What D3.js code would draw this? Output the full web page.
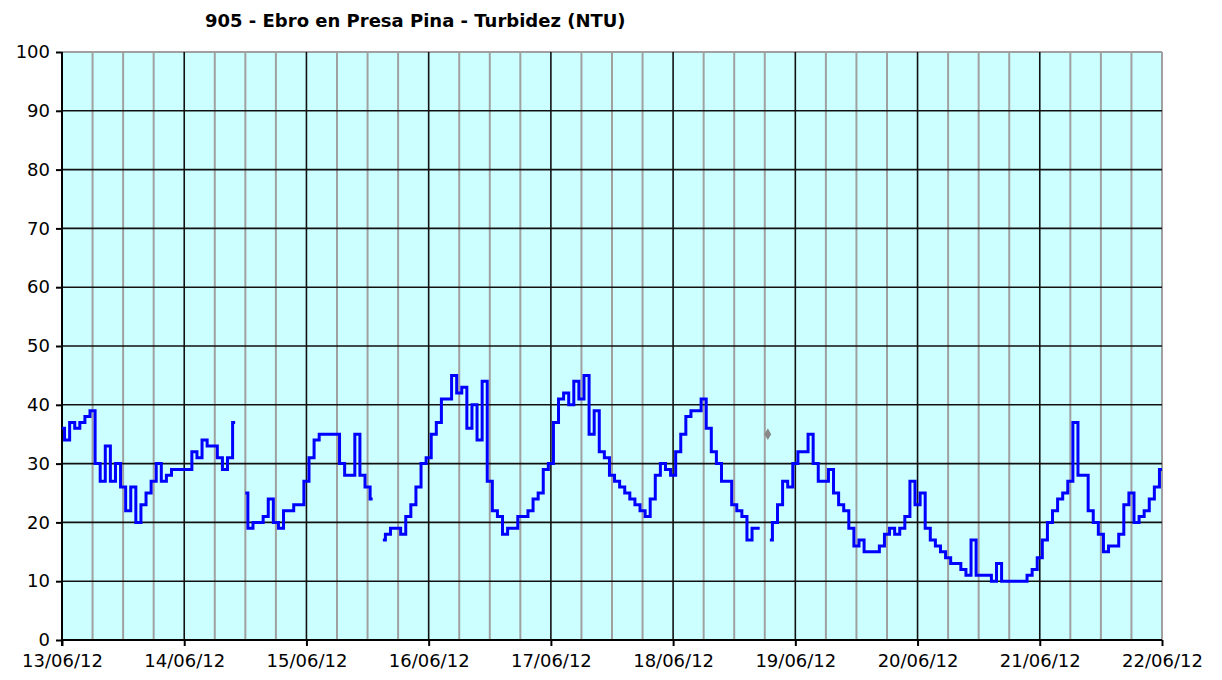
<!DOCTYPE html>
<html>
<head>
<meta charset="utf-8">
<script src="https://cdn.jsdelivr.net/npm/d3@7"></script>
<style type="text/css">
	body {
		margin: 0;
		background-color: #ffffff;
	}
	svg text {
		font-family: "DejaVu Sans", Verdana, sans-serif;
	}
	.titulo {
		font-weight: bold;
		font-size: 18px;
	}
	.eje text {
		font-size: 18px;
		fill: #000;
	}
</style>
</head>
<body>
<svg id="grafica" width="1222" height="680"></svg>
<script type="text/javascript">

	// etiquetas de los dias (eje x) y valores del eje y
	const dias = ["13/06/12", "14/06/12", "15/06/12", "16/06/12", "17/06/12", "18/06/12", "19/06/12", "20/06/12", "21/06/12", "22/06/12"];
	const ticksY = [0, 10, 20, 30, 40, 50, 60, 70, 80, 90, 100];

	// turbidez (NTU), un valor por hora, null = sin dato
	const t13 = [36, 34, 37, 36, 37, 38, 39, 30, 27, 33, 27, 30, 26, 22, 26, 20, 23, 25, 27, 30, 27, 28, 29, 29];
	const t14 = [29, 29, 32, 31, 34, 33, 33, 31, 29, 31, 37, null, 25, 19, 20, 20, 21, 24, 20, 19, 22, 22, 23, 23];
	const t15 = [27, 31, 34, 35, 35, 35, 35, 30, 28, 28, 35, 28, 26, 24, null, 17, 18, 19, 19, 18, 21, 23, 26, 30];
	const t16 = [31, 35, 37, 41, 41, 45, 42, 43, 36, 40, 34, 44, 27, 22, 21, 18, 19, 19, 21, 21, 22, 24, 25, 29];
	const t17 = [30, 37, 41, 42, 40, 44, 41, 45, 35, 39, 32, 31, 28, 27, 26, 25, 24, 23, 22, 21, 24, 28, 30, 29];
	const t18 = [28, 32, 35, 38, 39, 39, 41, 36, 32, 30, 27, 27, 23, 22, 21, 17, 19, 19, null, 17, 20, 23, 27, 26];
	const t19 = [30, 32, 32, 35, 30, 27, 27, 29, 25, 23, 22, 19, 16, 17, 15, 15, 15, 16, 18, 19, 18, 19, 21, 27];
	const t20 = [23, 25, 19, 17, 16, 15, 14, 13, 13, 12, 11, 17, 11, 11, 11, 10, 13, 10, 10, 10, 10, 10, 11, 12];
	const t21 = [14, 17, 20, 22, 24, 25, 27, 37, 28, 28, 22, 20, 18, 15, 16, 16, 18, 23, 25, 20, 21, 22, 24, 26];
	const t22 = [29];

	// punto gris suelto
	const puntoHora = [138.6];
	const puntoValor = [35];

	const turbidez = [].concat(t13, t14, t15, t16, t17, t18, t19, t20, t21, t22);
	const datos = turbidez.map((v, i) => ({ h: i, v: v }));

	const svg = d3.select("#grafica");
	const izq = 62, der = 1162, arriba = 52, abajo = 640;
	const horas = (dias.length - 1) * 24;

	const x = d3.scaleLinear().domain([0, horas]).range([izq, der]);
	const y = d3.scaleLinear().domain([0, 100]).range([abajo, arriba]);

	// fondo
	svg.append("rect")
		.attr("x", izq).attr("y", arriba)
		.attr("width", der - izq).attr("height", abajo - arriba)
		.attr("fill", "#ccffff");

	// lineas verticales cada 6 horas (gris)
	const cada6 = d3.range(6, horas + 1, 6).filter(h => h % 24 != 0 || h == horas);
	svg.append("g").selectAll("line").data(cada6).join("line")
		.attr("x1", d => x(d)).attr("x2", d => x(d))
		.attr("y1", arriba).attr("y2", abajo)
		.attr("stroke", "#a0a0a0").attr("stroke-width", 2);

	// borde superior gris
	svg.append("line")
		.attr("x1", izq).attr("x2", der).attr("y1", arriba).attr("y2", arriba)
		.attr("stroke", "#a0a0a0").attr("stroke-width", 2);

	// lineas horizontales (negro)
	svg.append("g").selectAll("line").data(ticksY.filter(t => t > 0 && t < 100)).join("line")
		.attr("x1", izq).attr("x2", der)
		.attr("y1", d => y(d)).attr("y2", d => y(d))
		.attr("stroke", "#111").attr("stroke-width", 1.6);

	// lineas de cada dia (negro)
	const horasDia = dias.map((d, i) => i * 24);
	svg.append("g").selectAll("line").data(horasDia.slice(1, -1)).join("line")
		.attr("x1", d => x(d)).attr("x2", d => x(d))
		.attr("y1", arriba).attr("y2", abajo)
		.attr("stroke", "#111").attr("stroke-width", 1.6);

	// ejes
	const ejeY = svg.append("g").attr("class", "eje")
		.attr("transform", `translate(${izq},0)`)
		.call(d3.axisLeft(y).tickValues(ticksY).tickSize(6).tickPadding(6));
	const ejeX = svg.append("g").attr("class", "eje")
		.attr("transform", `translate(0,${abajo})`)
		.call(d3.axisBottom(x).tickValues(horasDia).tickFormat((d, i) => dias[i]).tickSize(6).tickPadding(8));

	[ejeY, ejeX].forEach(e => {
		e.select(".domain").attr("stroke", "#000").attr("stroke-width", 2);
		e.selectAll(".tick line").attr("stroke", "#000").attr("stroke-width", 2);
	});
	ejeY.select(".domain").attr("d", `M0,${arriba}V${abajo + 6}`);
	ejeX.select(".domain").attr("d", `M${izq},0H${der}`);

	// serie
	const linea = d3.line()
		.defined(d => d.v != null)
		.x(d => x(d.h))
		.y(d => y(d.v))
		.curve(d3.curveStep);

	svg.append("path")
		.datum(datos)
		.attr("d", linea)
		.attr("fill", "none")
		.attr("stroke", "#0000ff")
		.attr("stroke-width", 3)
		.attr("stroke-linejoin", "miter");

	// marcador gris
	svg.append("g").selectAll("path").data(puntoHora).join("path")
		.attr("transform", (d, i) => `translate(${x(d)},${y(puntoValor[i])})`)
		.attr("d", d3.symbol(d3.symbolDiamond, 40))
		.attr("fill", "#888888");

	// titulo
	svg.append("text")
		.attr("class", "titulo")
		.attr("x", 205).attr("y", 27)
		.text("905 - Ebro en Presa Pina - Turbidez (NTU)");

</script>
</body>
</html>
